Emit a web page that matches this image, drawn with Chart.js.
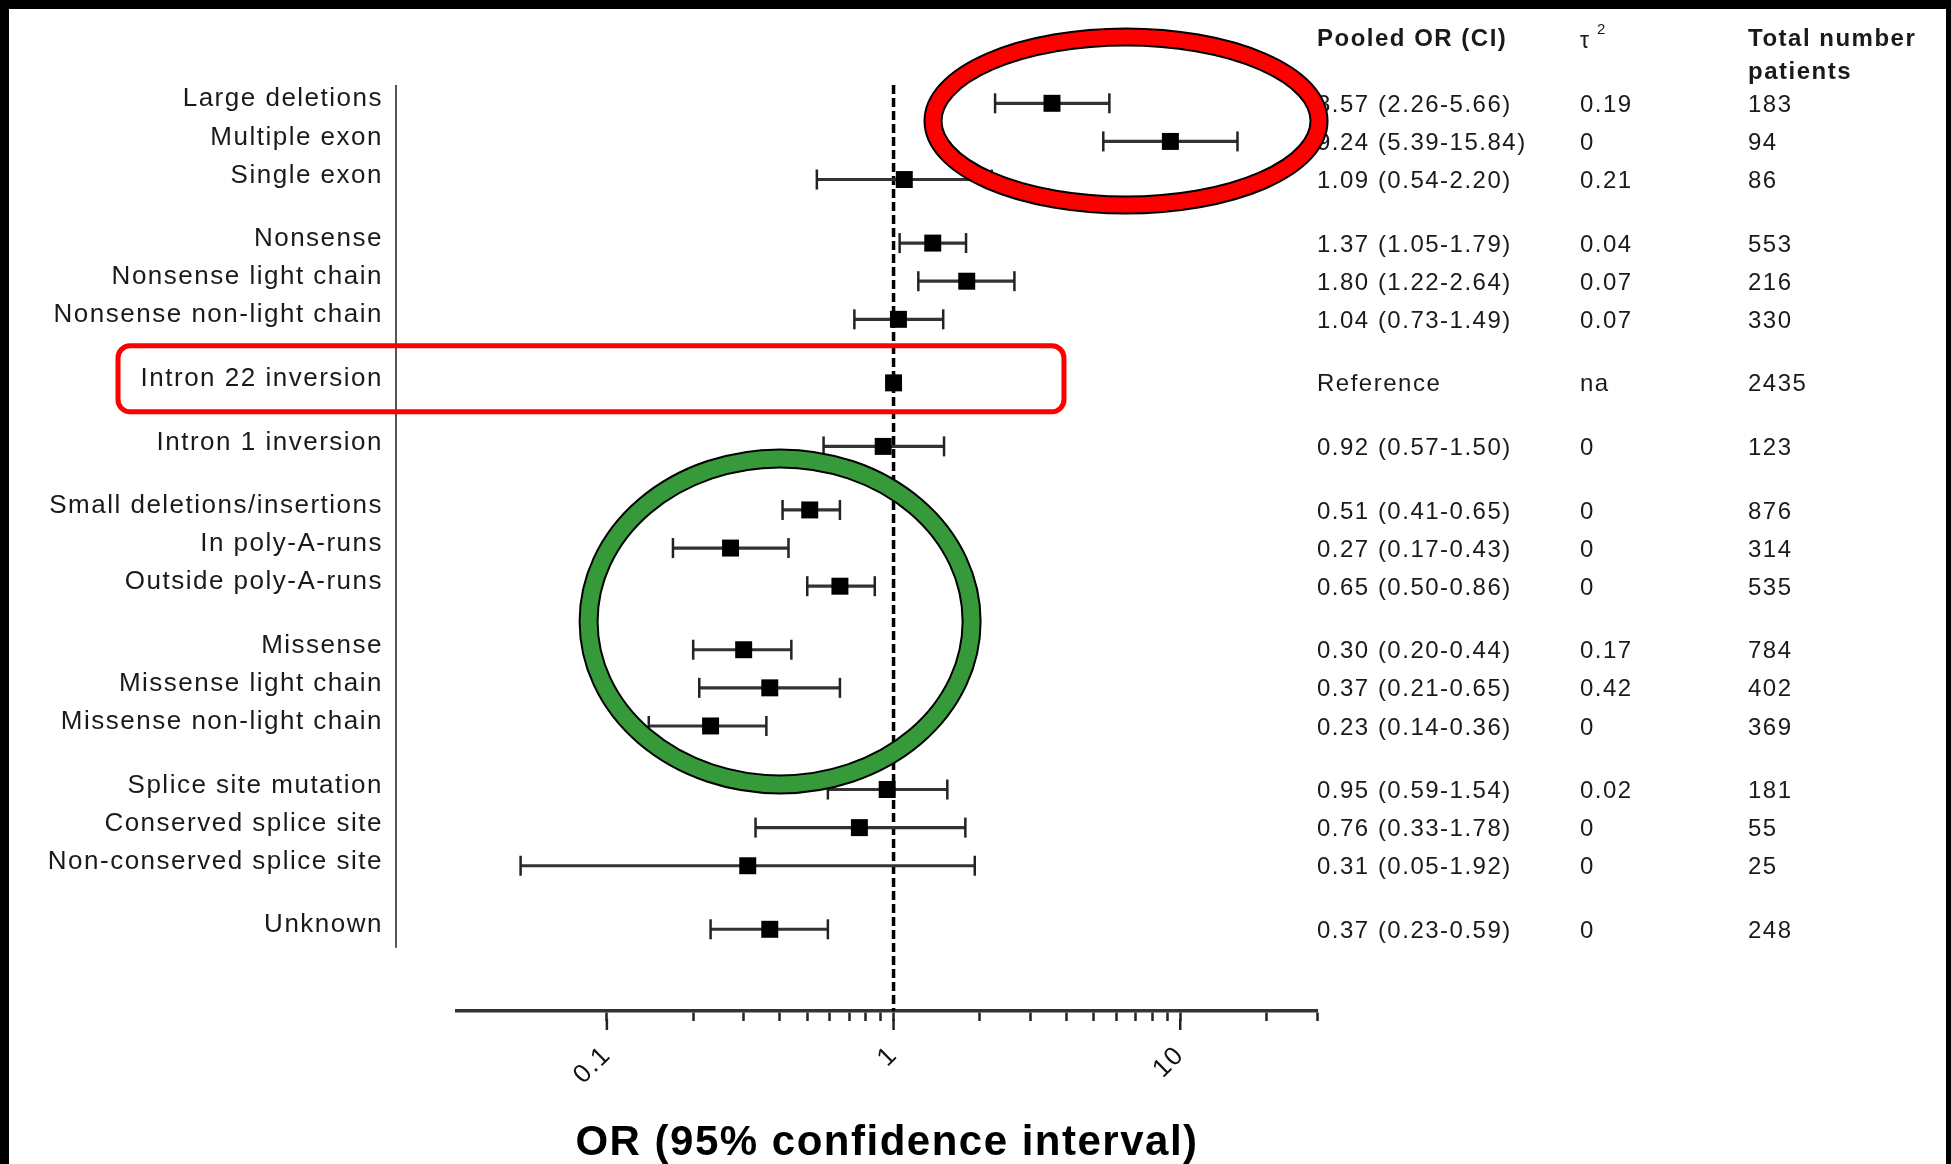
<!DOCTYPE html>
<html>
<head>
<meta charset="utf-8">
<script src="https://cdn.jsdelivr.net/npm/chart.js@4.4.1/dist/chart.umd.min.js"></script>
<style>
  html, body { margin: 0; padding: 0; background: #000; width: 1951px; height: 1164px; overflow: hidden; }
  #wrap { position: absolute; left: 9px; top: 9px; width: 1937px; height: 1155px; background: #fff; }
  canvas { display: block; }
</style>
</head>
<body>
<div id="wrap"><canvas id="c"></canvas></div>
<script>
// ---------------- data ----------------
const categories = [
  'Large deletions', 'Multiple exon', 'Single exon',
  'Nonsense', 'Nonsense light chain', 'Nonsense non-light chain',
  'Intron 22 inversion',
  'Intron 1 inversion',
  'Small deletions/insertions', 'In poly-A-runs', 'Outside poly-A-runs',
  'Missense', 'Missense light chain', 'Missense non-light chain',
  'Splice site mutation', 'Conserved splice site', 'Non-conserved splice site',
  'Unknown'
];
const groupSizes = [3, 3, 1, 1, 3, 3, 3, 1];
const orValues = [3.57, 9.24, 1.09, 1.37, 1.80, 1.04, 1.00, 0.92, 0.51, 0.27, 0.65, 0.30, 0.37, 0.23, 0.95, 0.76, 0.31, 0.37];
const ciLow    = [2.26, 5.39, 0.54, 1.05, 1.22, 0.73, null, 0.57, 0.41, 0.17, 0.50, 0.20, 0.21, 0.14, 0.59, 0.33, 0.05, 0.23];
const ciHigh   = [5.66, 15.84, 2.20, 1.79, 2.64, 1.49, null, 1.50, 0.65, 0.43, 0.86, 0.44, 0.65, 0.36, 1.54, 1.78, 1.92, 0.59];
const tau2     = ['0.19', '0', '0.21', '0.04', '0.07', '0.07', 'na', '0', '0', '0', '0', '0.17', '0.42', '0', '0.02', '0', '0', '0'];
const patients = [183, 94, 86, 553, 216, 330, 2435, 123, 876, 314, 535, 784, 402, 369, 181, 55, 25, 248];
const referenceText = 'Reference';
const xTickValues = [0.1, 0.2, 0.3, 0.4, 0.5, 0.6, 0.7, 0.8, 0.9, 1, 2, 3, 4, 5, 6, 7, 8, 9, 10, 20, 30];
const xMajorTicks = [0.1, 1, 10];
const xTickLabels = ['0.1', '1', '10'];
const headers = ['Pooled OR (CI)', '\u03C4', 'Total number', 'patients'];
const axisTitle = 'OR (95% confidence interval)';
const nullLine = 1;

// ---------------- layout helpers ----------------
const rowPos = [];
(function () {
  let p = 0;
  groupSizes.forEach(n => {
    for (let k = 0; k < n; k++) { rowPos.push(p); p += 1; }
    p += 2 / 3;
  });
})();
const yMin = -0.48, yMax = 23.81, yAxisEnd = 22.15;

const FONT = "'Liberation Sans', Arial, Helvetica, sans-serif";
Chart.defaults.font.family = FONT;
Chart.defaults.color = '#1a1a1a';

const squares = categories.map((c, i) => ({ x: orValues[i], y: rowPos[i] }));
const bars = [], caps = [];
categories.forEach((c, i) => {
  if (ciLow[i] != null) {
    bars.push({ y: rowPos[i], x: [ciLow[i], ciHigh[i]] });
    caps.push({ x: ciLow[i], y: rowPos[i] }, { x: ciHigh[i], y: rowPos[i] });
  }
});

const overlay = {
  id: 'overlay',
  beforeDraw(chart) { chart.ctx.letterSpacing = '1.5px'; },
  afterDraw(chart) {
    const { ctx, chartArea, scales: { x, y } } = chart;
    ctx.save();
    ctx.letterSpacing = '1.5px';
    // y axis vertical line
    const yl = chartArea.left - 61;
    ctx.strokeStyle = '#555';
    ctx.lineWidth = 2;
    ctx.beginPath();
    ctx.moveTo(yl, y.getPixelForValue(yMin));
    ctx.lineTo(yl, y.getPixelForValue(yAxisEnd));
    ctx.stroke();
    // longer major ticks
    ctx.strokeStyle = '#222';
    ctx.lineWidth = 2.5;
    xMajorTicks.forEach(v => {
      const px = x.getPixelForValue(v);
      ctx.beginPath();
      ctx.moveTo(px, chartArea.bottom + 8);
      ctx.lineTo(px, chartArea.bottom + 19);
      ctx.stroke();
    });
    // table
    const c1 = chartArea.right, c2 = chartArea.right + 263, c3 = chartArea.right + 431;
    ctx.fillStyle = '#1a1a1a';
    ctx.textAlign = 'left';
    ctx.textBaseline = 'alphabetic';
    ctx.font = 'bold 24px ' + FONT;
    ctx.fillText(headers[0], c1, 37);
    ctx.fillText(headers[2], c3, 37);
    ctx.fillText(headers[3], c3, 70);
    ctx.font = '23px ' + FONT;
    ctx.fillText(headers[1], c2, 39);
    ctx.font = '15px ' + FONT;
    ctx.fillText('2', c2 + 17, 25);
    ctx.font = '24px ' + FONT;
    ctx.textBaseline = 'middle';
    categories.forEach((c, i) => {
      const py = y.getPixelForValue(rowPos[i]) + 2;
      const t = ciLow[i] == null ? referenceText :
        orValues[i].toFixed(2) + ' (' + ciLow[i].toFixed(2) + '-' + ciHigh[i].toFixed(2) + ')';
      ctx.fillText(t, c1, py);
      ctx.fillText(tau2[i], c2, py);
      ctx.fillText(String(patients[i]), c3, py);
    });
    // highlight annotations
    function ring(cx, cy, rx, ry, w, color) {
      ctx.beginPath();
      ctx.ellipse(cx, cy, rx, ry, 0, 0, Math.PI * 2);
      ctx.strokeStyle = '#000';
      ctx.lineWidth = w + 4;
      ctx.stroke();
      ctx.strokeStyle = color;
      ctx.lineWidth = w;
      ctx.stroke();
    }
    ring(x.getPixelForValue(6.47), y.getPixelForValue(0.465), 193, 84, 15, '#ff0000');
    ring(x.getPixelForValue(0.402), y.getPixelForValue(13.59), 191.5, 163, 16, '#36993a');
    // rounded rectangle around reference row
    const ry0 = y.getPixelForValue(rowPos[6]);
    const rl = chartArea.left - 339, rr = x.getPixelForValue(3.93);
    const rt = ry0 - 37, rb = ry0 + 29;
    ctx.beginPath();
    ctx.roundRect(rl, rt, rr - rl, rb - rt, 12);
    ctx.strokeStyle = '#ff0000';
    ctx.lineWidth = 5;
    ctx.stroke();
    ctx.restore();
  }
};

new Chart(document.getElementById('c'), {
  type: 'scatter',
  data: {
    datasets: [
      {
        label: 'OR',
        data: squares,
        pointStyle: 'rect',
        pointRadius: 12,
        backgroundColor: '#000',
        borderColor: '#000',
        borderWidth: 0,
        order: 0
      },
      {
        label: 'caps',
        data: caps,
        pointStyle: 'line',
        rotation: 90,
        pointRadius: 10,
        borderColor: '#222',
        borderWidth: 2.5,
        order: 1
      },
      {
        type: 'bar',
        label: 'CI',
        indexAxis: 'y',
        data: bars,
        barThickness: 2.5,
        backgroundColor: '#333',
        borderWidth: 0,
        order: 2
      },
      {
        type: 'line',
        label: 'null',
        data: [{ x: nullLine, y: yMin }, { x: nullLine, y: yMax }],
        borderColor: '#000',
        borderWidth: 3.5,
        borderDash: [9, 4],
        pointRadius: 0,
        fill: false,
        order: 3
      }
    ]
  },
  options: {
    responsive: true,
    maintainAspectRatio: false,
    animation: false,
    events: [],
    layout: { autoPadding: false, padding: { top: 76, right: 629, left: 0, bottom: 0 } },
    plugins: { legend: { display: false }, tooltip: { enabled: false }, title: { display: false } },
    scales: {
      x: {
        type: 'logarithmic',
        min: 0.03,
        max: 30,
        offset: false,
        afterBuildTicks: s => { s.ticks = xTickValues.map(v => ({ value: v, major: xMajorTicks.includes(v) })); },
        afterFit: s => { s.height = 153; s.paddingLeft = 0; s.paddingRight = 0; s.paddingTop = 0; s.paddingBottom = 0; },
        grid: { display: true, offset: false, drawOnChartArea: false, drawTicks: true, tickLength: 10, tickWidth: 2.5, tickColor: '#222' },
        border: { display: true, color: '#333', width: 3.5 },
        ticks: {
          autoSkip: false,
          minRotation: 45,
          maxRotation: 45,
          padding: 19,
          color: '#111',
          font: { size: 26 },
          callback: (v) => { const k = xMajorTicks.indexOf(v); return k >= 0 ? xTickLabels[k] : ''; }
        },
        title: {
          display: true,
          text: axisTitle,
          color: '#000',
          font: { size: 42, weight: 'bold', lineHeight: 1 },
          padding: { top: 0, bottom: 0 }
        }
      },
      y: {
        type: 'linear',
        reverse: true,
        offset: false,
        min: yMin,
        max: yMax,
        afterBuildTicks: s => { s.ticks = rowPos.map(v => ({ value: v })); },
        afterFit: s => { s.width = 448; s.paddingLeft = 0; s.paddingRight = 0; s.paddingTop = 0; s.paddingBottom = 0; },
        grid: { display: false, offset: false, drawTicks: false },
        border: { display: false },
        ticks: {
          autoSkip: false,
          padding: 74,
          labelOffset: -4,
          color: '#1a1a1a',
          font: { size: 26 },
          callback: (v, i) => categories[i]
        }
      }
    }
  },
  plugins: [overlay]
});
</script>
</body>
</html>
